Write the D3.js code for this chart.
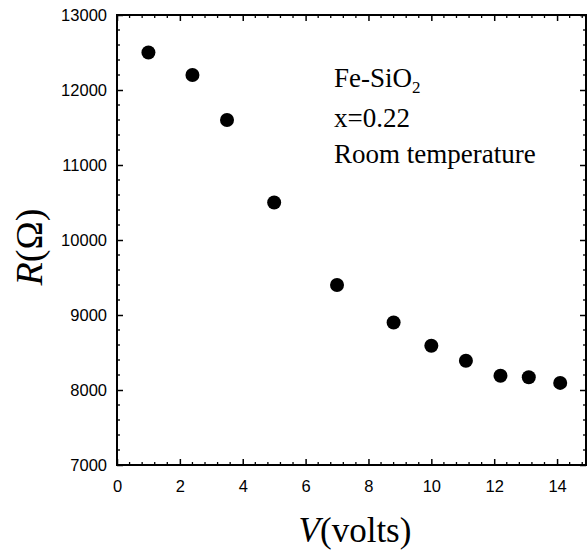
<!DOCTYPE html>
<html>
<head>
<meta charset="utf-8">
<script src="https://cdn.jsdelivr.net/npm/d3@7"></script>
<style>
	body { margin: 0; background: #fff; }
	svg { display: block; }
	.tick text { font-family: "Liberation Sans", Arial, sans-serif; font-size: 16.5px; fill: #000; }
	.serif { font-family: "Liberation Serif", "Times New Roman", serif; fill: #000; }
</style>
</head>
<body>
<svg id="chart" width="587" height="550"></svg>
<script>
// data
const voltage = [1, 2.4, 3.5, 5, 7, 8.8, 10, 11.1, 12.2, 13.1, 14.1];
const resistance = [12500, 12200, 11600, 10500, 9400, 8900, 8590, 8390, 8190, 8170, 8095];
const xTicks = [0, 2, 4, 6, 8, 10, 12, 14];
const yTicks = [7000, 8000, 9000, 10000, 11000, 12000, 13000];
const noteLines = ["x=0.22", "Room temperature"];

const svg = d3.select("#chart");
const plotL = 117, plotR = 588.5, plotT = 15, plotB = 465, frameR = 586;

const x = d3.scaleLinear().domain([0, 15]).range([plotL, plotR]);
const y = d3.scaleLinear().domain([7000, 13000]).range([plotB, plotT]);

const xMinor = d3.range(0, 15.01, 0.4).filter(v => Math.abs(v / 2 - Math.round(v / 2)) > 0.01);
const yMinor = d3.range(7000, 13001, 200).filter(v => v % 1000 !== 0);

function styleAxis(g) {
	g.select(".domain").remove();
	g.selectAll(".tick line").attr("stroke", "#000").attr("stroke-width", 1.5);
}

// minor ticks (all four sides)
const minor = svg.append("g").attr("stroke", "#000").attr("stroke-width", 1.3);
minor.selectAll(".mxb").data(xMinor).join("line")
	.attr("x1", d => x(d)).attr("x2", d => x(d)).attr("y1", plotB).attr("y2", plotB - 3);
minor.selectAll(".mxt").data(xMinor).join("line")
	.attr("x1", d => x(d)).attr("x2", d => x(d)).attr("y1", plotT).attr("y2", plotT + 3);
minor.selectAll(".myl").data(yMinor).join("line")
	.attr("x1", plotL).attr("x2", plotL + 3).attr("y1", d => y(d)).attr("y2", d => y(d));
minor.selectAll(".myr").data(yMinor).join("line")
	.attr("x1", frameR).attr("x2", frameR - 3).attr("y1", d => y(d)).attr("y2", d => y(d));

// major axes
svg.append("g").attr("transform", `translate(0,${plotB})`)
	.call(d3.axisBottom(x).tickValues(xTicks).tickSize(-6).tickPadding(15).tickFormat(d3.format("d")))
	.call(styleAxis);
svg.append("g").attr("transform", `translate(0,${plotT})`)
	.call(d3.axisTop(x).tickValues(xTicks).tickSize(-6).tickFormat(""))
	.call(styleAxis);
svg.append("g").attr("transform", `translate(${plotL},0)`)
	.call(d3.axisLeft(y).tickValues(yTicks).tickSize(-6).tickPadding(10).tickFormat(d3.format("d")))
	.call(styleAxis);
svg.append("g").attr("transform", `translate(${frameR},0)`)
	.call(d3.axisRight(y).tickValues(yTicks).tickSize(-6).tickFormat(""))
	.call(styleAxis);

// frame
svg.append("rect")
	.attr("x", plotL).attr("y", plotT)
	.attr("width", frameR - plotL).attr("height", plotB - plotT)
	.attr("fill", "none").attr("stroke", "#000").attr("stroke-width", 2);

// points
svg.append("g").selectAll("circle")
	.data(voltage.map((v, i) => [v, resistance[i]]))
	.join("circle")
	.attr("cx", d => x(d[0]))
	.attr("cy", d => y(d[1]))
	.attr("r", 7)
	.attr("fill", "#000");

// annotation
const note = svg.append("text").attr("class", "serif").attr("font-size", 27);
const first = note.append("tspan").attr("x", 334).attr("y", 87);
first.append("tspan").text("Fe-SiO");
first.append("tspan").attr("font-size", 17).attr("dy", 6).text("2");
svg.append("g").selectAll("text").data(noteLines).join("text")
	.attr("class", "serif")
	.attr("font-size", 27)
	.attr("x", 334)
	.attr("y", (d, i) => 127 + i * 36)
	.text(d => d);

// axis titles
const xt = svg.append("text").attr("class", "serif").attr("font-size", 35)
	.attr("x", 355).attr("y", 542).attr("text-anchor", "middle");
xt.append("tspan").attr("font-style", "italic").text("V");
xt.append("tspan").text("(volts)");

const yt = svg.append("text").attr("class", "serif").attr("font-size", 38)
	.attr("transform", "translate(42,247) rotate(-90)").attr("text-anchor", "middle");
yt.append("tspan").attr("font-style", "italic").text("R");
yt.append("tspan").text("(Ω)");
</script>
</body>
</html>
